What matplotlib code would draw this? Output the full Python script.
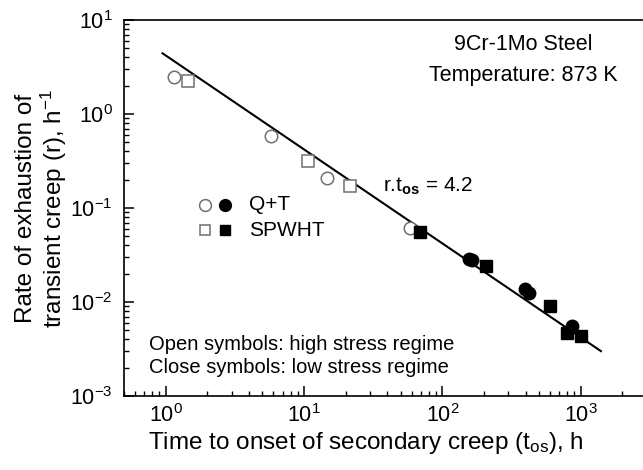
import matplotlib
matplotlib.use("Agg")
import matplotlib.pyplot as plt
import numpy as np
from matplotlib.ticker import LogLocator, NullFormatter

plt.rcParams['font.family'] = ['Liberation Sans', 'DejaVu Sans']
plt.rcParams['mathtext.fontset'] = 'custom'
plt.rcParams['mathtext.rm'] = 'Liberation Sans'
plt.rcParams['mathtext.it'] = 'Liberation Sans:italic'
plt.rcParams['mathtext.bf'] = 'Liberation Sans:bold'

# Q+T, high stress (open circles)
qt_open_t = [1.15, 5.8, 14.6, 58]
qt_open_r = [2.45, 0.59, 0.21, 0.061]
# SPWHT, high stress (open squares)
sp_open_t = [1.44, 10.7, 21.5]
sp_open_r = [2.24, 0.314, 0.171]
# Q+T, low stress (filled circles)
qt_fill_t = [155, 165, 397, 425, 861]
qt_fill_r = [0.029, 0.0278, 0.0137, 0.0124, 0.0056]
# SPWHT, low stress (filled squares)
sp_fill_t = [69.3, 208, 600, 792, 1005]
sp_fill_r = [0.056, 0.0243, 0.0091, 0.0047, 0.0044]

fit_const = 4.2
fit_t = [0.95, 1400]

fig = plt.figure(figsize=(6.43, 4.70), dpi=100)
ax = fig.add_axes([124/643, 1-396/470, 1-124/643, (396-20)/470])

ax.set_xscale('log')
ax.set_yscale('log')
ax.set_xlim(0.5, 2818)
ax.set_ylim(1e-3, 1e1)

ft = np.array(fit_t)
ax.plot(ft, fit_const / ft, color='black', lw=1.5, zorder=2)

grey = '#707070'
ax.plot(qt_open_t, qt_open_r, 'o', ms=9, mfc='white', mec=grey, mew=1.1, ls='none', zorder=3)
ax.plot(sp_open_t, sp_open_r, 's', ms=8, mfc='white', mec=grey, mew=1.1, ls='none', zorder=3)
ax.plot(qt_fill_t, qt_fill_r, 'o', ms=9, mfc='black', mec='black', ls='none', zorder=3)
ax.plot(sp_fill_t, sp_fill_r, 's', ms=8, mfc='black', mec='black', ls='none', zorder=3)

# legend (manual, two marker columns)
ly1, ly2 = 0.108, 0.058
ax.plot([1.91], [ly1], 'o', ms=8.5, mfc='white', mec=grey, mew=1.1)
ax.plot([2.67], [ly1], 'o', ms=8.5, mfc='black', mec='black')
ax.plot([1.91], [ly2], 's', ms=7.7, mfc='white', mec=grey, mew=1.1)
ax.plot([2.67], [ly2], 's', ms=7.7, mfc='black', mec='black')
ax.text(4.0, ly1, 'Q+T', fontsize=15, va='center', ha='left')
ax.text(4.0, ly2, 'SPWHT', fontsize=15, va='center', ha='left')

ax.text(0.754, 0.00357, 'Open symbols: high stress regime', fontsize=14.5, va='center', ha='left')
ax.text(0.754, 0.00199, 'Close symbols: low stress regime', fontsize=14.5, va='center', ha='left')

fig.text(523/643, 1-44/470, '9Cr-1Mo Steel', fontsize=15.5, ha='center', va='center')
fig.text(523/643, 1-75/470, 'Temperature: 873 K', fontsize=15.5, ha='center', va='center')
ax.text(37, 0.17, r'r.t$_{\mathbf{os}}$ = 4.2', fontsize=15, ha='left', va='center')

ax.spines['right'].set_visible(False)
for s in ('top', 'left', 'bottom'):
    ax.spines[s].set_linewidth(1.2)

ax.xaxis.set_major_locator(LogLocator(base=10, numticks=10))
ax.xaxis.set_minor_locator(LogLocator(base=10, subs=np.arange(2, 10), numticks=20))
ax.yaxis.set_major_locator(LogLocator(base=10, numticks=10))
ax.yaxis.set_minor_locator(LogLocator(base=10, subs=np.arange(2, 10), numticks=20))
ax.xaxis.set_minor_formatter(NullFormatter())
ax.yaxis.set_minor_formatter(NullFormatter())

ax.tick_params(which='both', direction='in', top=False, right=False, labelsize=15.5)
ax.tick_params(which='major', length=7, width=1.1)
ax.tick_params(axis='y', which='major', pad=8)
ax.tick_params(axis='x', which='major', pad=6)
ax.tick_params(which='minor', length=3.5, width=1.0)

ax.set_xlabel(r'Time to onset of secondary creep (t$_{\mathrm{os}}$), h', fontsize=17.5,
              va='center')
ax.xaxis.set_label_coords((366-124)/519, (396-443)/376)
ax.set_ylabel('Rate of exhaustion of\ntransient creep (r), h$^{-1}$', fontsize=17.5,
              va='center', ha='center', linespacing=1.05)
ax.yaxis.set_label_coords((42-124)/519, 0.5)

fig.savefig('out.png', dpi=100)
